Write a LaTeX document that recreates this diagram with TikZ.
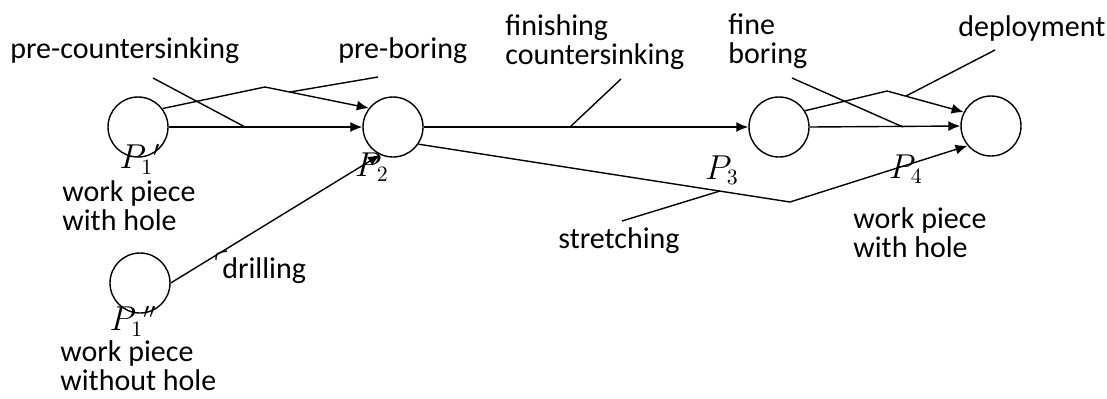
\documentclass[tikz,border=0pt]{standalone}
\usepackage{fontspec}
\setmainfont{Carlito}
\usetikzlibrary{arrows.meta}
\begin{document}
\begin{tikzpicture}
[x=0.5pt, y=-0.5pt, font=\fontsize{15}{14.5}\selectfont, >={Latex[length=6pt,width=5pt]}]
\tikzstyle{place}=[circle, draw, line width=0.7pt, fill=white, inner sep=0mm, minimum size=30pt]
\tikzstyle{plabel}=[inner sep=0pt, font=\fontsize{16}{16}\selectfont]
\tikzstyle{oplabel}=[anchor=west, align=left, inner sep=0pt]
\tikzstyle{conn}=[line width=0.7pt]
\useasboundingbox (0,0) rectangle (1107,398);

\node[place]	(P1a)	at (138,127)	[label={[plabel, label distance=-7pt, xshift=1pt]below:{$P_1{}'$}}]	{};
\node[place]	(P1b)	at (140,283)	[label={[plabel, label distance=-4pt, xshift=-3.5pt]below:{$P_1{}''$}}]	{};
\node[place]	(P2)	at (393,127)	[label={[plabel, label distance=-2.5pt, xshift=-10.5pt]below:{$P_2$}}]	{};
\node[place]	(P3)	at (779,127)	[label={[plabel, label distance=-1pt, xshift=-28.5pt]below:{$P_3$}}]	{};
\node[place]	(P4)	at (991,126)	[label={[plabel, label distance=-1pt, xshift=-42.5pt]below:{$P_4$}}]	{};

\node[oplabel]	(T1)	at (10,51)	{pre-countersinking};
\node[oplabel]	(T2)	at (338,51)	{pre-boring};
\node[oplabel]	(T3)	at (505,42)	{finishing\\countersinking};
\node[oplabel]	(T4)	at (728,41)	{fine\\boring};
\node[oplabel]	(T5)	at (958,28)	{deployment};
\node[oplabel]	(T6)	at (558,241)	{stretching};
\node[oplabel]	(T7)	at (222,271)	{drilling};
\node[oplabel]	(W1)	at (62,206)	{work piece\\with hole};
\node[oplabel]	(W2)	at (60,366)	{work piece\\without hole};
\node[oplabel]	(W3)	at (853,233)	{work piece\\with hole};

\coordinate (K1) at (265,87);
\coordinate (K2) at (790,202);
\coordinate (K3) at (887,91);

\draw[conn,->] (P1a.east) -- (P2.west);
\draw[conn,->] (P1a.37) -- (K1) -- (P2.142);
\draw[conn,->] (P1b.east) -- (P2.245);
\draw[conn,->] (P2.east) -- (P3.west);
\draw[conn,->] (P2.-34) -- (K2) -- (P4.220);
\draw[conn,->] (P3.32) -- (K3) -- (P4.153);
\draw[conn,->] (P3.east) -- (P4.west);

% leader lines
\coordinate (A1) at (153,78);	\coordinate (B1) at (245,127);
\coordinate (A2) at (378,77);	\coordinate (B2) at (290,92);
\coordinate (A3) at (621,79);	\coordinate (B3) at (570,127);
\coordinate (A4) at (792,78);	\coordinate (B4) at (903,127);
\coordinate (A5) at (995,50);	\coordinate (B5) at (906,96);
\coordinate (A6) at (622,221);	\coordinate (B6) at (720,191);
\coordinate (A7) at (216,260);	\coordinate (B7) at (227,251);
\draw[conn] (A1)--(B1);
\draw[conn] (A2)--(B2);
\draw[conn] (A3)--(B3);
\draw[conn] (A4)--(B4);
\draw[conn] (A5)--(B5);
\draw[conn] (A6)--(B6);
\draw[conn] (A7) .. controls (216,253) .. (B7);
\end{tikzpicture}
\end{document}
